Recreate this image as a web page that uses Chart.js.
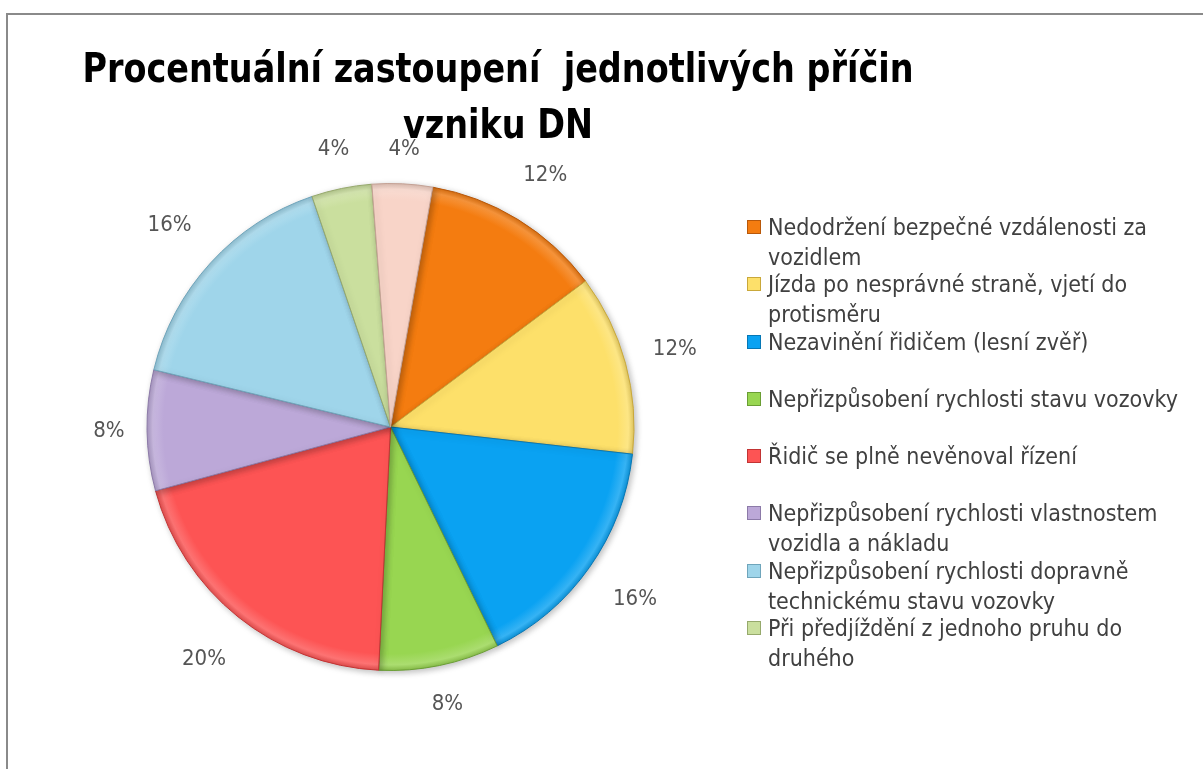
<!DOCTYPE html>
<html>
<head>
<meta charset="utf-8">
<script src="https://cdn.jsdelivr.net/npm/chart.js@4/dist/chart.umd.min.js"></script>
<style>
  body { margin: 0; background: #fff; overflow: hidden; }
  #wrap { position: relative; width: 1203px; height: 769px; }
  #frame { position: absolute; left: 6px; top: 13px; right: -10px; bottom: -10px;
           border-top: 2px solid #8a8a8a; border-left: 2px solid #8a8a8a; }
  #title { position: absolute; left: 0; top: 40px; width: 996px; text-align: center;
           font: bold 40px 'DejaVu Sans Condensed', 'Liberation Sans Narrow', sans-serif;
           line-height: 56px; color: #000; transform: scaleX(0.93); transform-origin: 498px 0; }
  #chart { position: absolute; left: 0; top: 0; }
  #legend { position: absolute; left: 747px; top: 212px; margin: 0; padding: 0; list-style: none;
            font: 23px 'DejaVu Sans Condensed', 'Liberation Sans Narrow', sans-serif;
            color: #404040; line-height: 30px; }
  #legend li { position: relative; height: 57.3px; padding-left: 21px; white-space: nowrap; }
  #legend span.box { position: absolute; left: 0; top: 8px; width: 12px; height: 12px; border: 1px solid; }
</style>
</head>
<body>
<div id="wrap">
  <div id="frame"></div>
  <canvas id="chart" width="1203" height="769"></canvas>
  <div id="title">Procentuální zastoupení&nbsp; jednotlivých příčin<br>vzniku DN</div>
  <ul id="legend"></ul>
</div>
<script>
// categories (legend text already broken into lines like in the picture)
const categories = [
  ['Nedodržení bezpečné vzdálenosti za', 'vozidlem'],
  ['Jízda po nesprávné straně, vjetí do', 'protisměru'],
  ['Nezavinění řidičem (lesní zvěř)'],
  ['Nepřizpůsobení rychlosti stavu vozovky'],
  ['Řidič se plně nevěnoval řízení'],
  ['Nepřizpůsobení rychlosti vlastnostem', 'vozidla a nákladu'],
  ['Nepřizpůsobení rychlosti dopravně', 'technickému stavu vozovky'],
  ['Při předjíždění z jednoho pruhu do', 'druhého'],
  ['Ostatní']
];
const percents = [12, 12, 16, 8, 20, 8, 16, 4, 4];
const sliceColors = ['#f47c10', '#fde06a', '#0aa2f2', '#98d651', '#fd5454', '#bca8d8', '#9fd5ea', '#cadf9e', '#f8d4c8'];
const edgeColors = ['#b8580a', '#c9a83a', '#0677b5', '#6a9e34', '#c23434', '#8c7aa8', '#6fa5bb', '#96a96c', '#c4a194'];
const legendCount = 8;  // the last item is cut off in the original legend

function shade(hex, f) {
  let n = parseInt(hex.slice(1), 16);
  let r = n >> 16, g = (n >> 8) & 255, b = n & 255;
  if (f > 0) {
    r += (255 - r) * f; g += (255 - g) * f; b += (255 - b) * f;
  } else {
    r *= 1 + f; g *= 1 + f; b *= 1 + f;
  }
  return `rgb(${Math.round(r)}, ${Math.round(g)}, ${Math.round(b)})`;
}

// soft bevel look of the slices
function sliceFill(ctx) {
  const base = sliceColors[ctx.dataIndex];
  const area = ctx.chart.chartArea;
  if (!area) return base;
  const cx = (area.left + area.right) / 2;
  const cy = (area.top + area.bottom) / 2;
  const r = Math.min(area.width, area.height) / 2;
  const g = ctx.chart.ctx.createRadialGradient(cx, cy, 0, cx, cy, r);
  g.addColorStop(0, base);
  g.addColorStop(0.93, base);
  g.addColorStop(0.975, shade(base, 0.18));
  g.addColorStop(1, shade(base, -0.12));
  return g;
}

const shadowPlugin = {
  id: 'shadow',
  beforeDatasetsDraw(chart) {
    const c = chart.ctx;
    c.save();
    c.shadowColor = 'rgba(0, 0, 0, 0.25)';
    c.shadowBlur = 6;
    c.shadowOffsetX = 2;
    c.shadowOffsetY = 2;
  },
  afterDatasetsDraw(chart) {
    chart.ctx.restore();
  }
};

// percentage labels outside each slice
const outsideLabels = {
  id: 'outsideLabels',
  afterDatasetsDraw(chart) {
    const c = chart.ctx;
    const meta = chart.getDatasetMeta(0);
    c.save();
    c.font = "22px 'DejaVu Sans Condensed', 'Liberation Sans Narrow', sans-serif";
    c.fillStyle = '#555';
    c.textAlign = 'center';
    c.textBaseline = 'middle';
    meta.data.forEach((arc, i) => {
      const p = arc.getProps(['x', 'y', 'startAngle', 'endAngle', 'outerRadius'], true);
      const mid = (p.startAngle + p.endAngle) / 2;
      const text = percents[i] + '%';
      const w = c.measureText(text).width;
      const h = 22;
      const cos = Math.cos(mid), sin = Math.sin(mid);
      const dist = p.outerRadius + 22 + Math.abs(cos) * w / 2 + Math.abs(sin) * h / 2
        + Math.abs(Math.sin(2 * mid)) * 10;
      c.fillText(text, p.x + cos * dist, p.y + sin * dist);
    });
    c.restore();
  }
};

const htmlLegend = {
  id: 'htmlLegend',
  afterUpdate(chart) {
    const ul = document.getElementById('legend');
    ul.innerHTML = '';
    for (let i = 0; i < legendCount; i++) {
      const li = document.createElement('li');
      const box = document.createElement('span');
      box.className = 'box';
      box.style.background = sliceColors[i];
      box.style.borderColor = edgeColors[i];
      li.appendChild(box);
      li.innerHTML += chart.data.labels[i].join('<br>');
      ul.appendChild(li);
    }
  }
};

const ctxPie = document.getElementById('chart').getContext('2d');
const pieChart = new Chart(ctxPie, {
  type: 'pie',
  data: {
    labels: categories,
    datasets: [{
      data: percents,
      backgroundColor: sliceFill,
      borderColor: edgeColors,
      borderWidth: 1
    }]
  },
  options: {
    responsive: false,
    animation: false,
    rotation: 10,
    layout: {
      padding: { top: 183, left: 146, right: 568, bottom: 98 }
    },
    plugins: {
      legend: { display: false },
      title: { display: false },
      tooltip: { enabled: false }
    }
  },
  plugins: [shadowPlugin, outsideLabels, htmlLegend]
});
</script>
</body>
</html>
